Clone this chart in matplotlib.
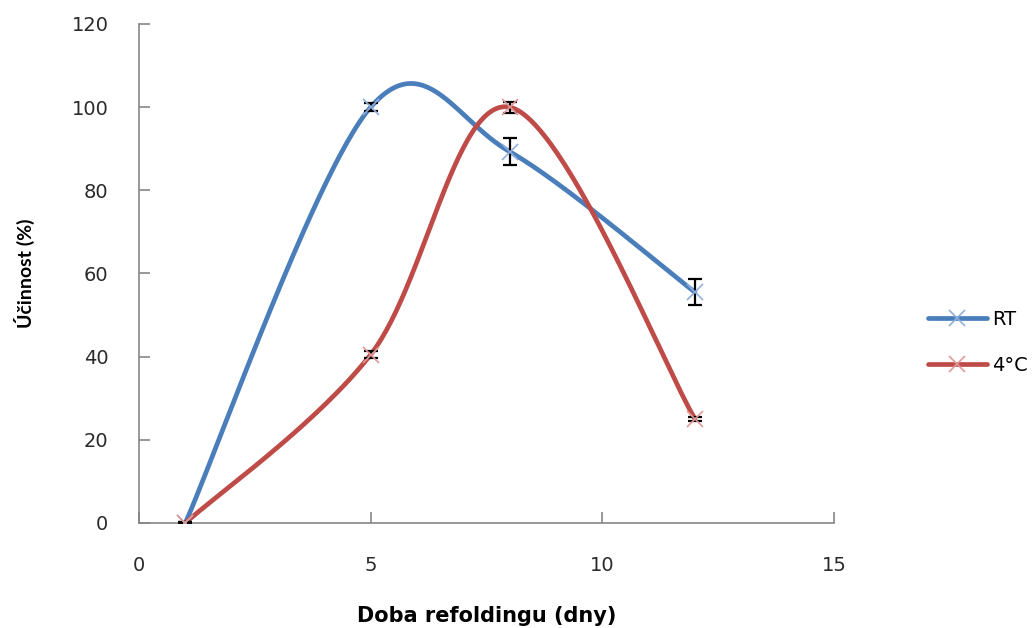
import numpy as np
import matplotlib
matplotlib.use('Agg')
import matplotlib.pyplot as plt

plt.rcParams['font.family'] = ['DejaVu Sans']

# data
days = [1, 5, 8, 12]
rt_vals = [0, 100, 89.3, 55.5]
rt_err = [0.3, 1.0, 3.2, 3.1]
cold_vals = [0, 40.5, 100, 25]
cold_err = [0.3, 0.8, 1.3, 0.5]


def excel_smooth(ax, xs, ys, n=60):
    # Excel-like smoothing (Catmull-Rom bezier) computed in display space
    pts = ax.transData.transform(np.column_stack([xs, ys]))
    p = np.vstack([pts[0], pts, pts[-1]])
    out = []
    t = np.linspace(0, 1, n)[:, None]
    for i in range(1, len(p) - 2):
        p0, p3 = p[i], p[i + 1]
        c1 = p0 + (p[i + 1] - p[i - 1]) / 6
        c2 = p3 - (p[i + 2] - p[i]) / 6
        seg = ((1 - t) ** 3) * p0 + 3 * ((1 - t) ** 2) * t * c1 + 3 * (1 - t) * t ** 2 * c2 + t ** 3 * p3
        out.append(seg)
    curve = np.vstack(out)
    return ax.transData.inverted().transform(curve)


fig = plt.figure(figsize=(10.35, 6.28), dpi=100)
ax = fig.add_axes([0.1343, 0.1672, 0.6715, 0.7946])
ax.set_xlim(0, 15)
ax.set_ylim(0, 120)

series = [
    ('RT', rt_vals, rt_err, '#4a7ebb', '#8fb0dd'),
    ('4°C', cold_vals, cold_err, '#be4b48', '#e09a98'),
]
handles = []
for name, vals, err, col, mcol in series:
    c = excel_smooth(ax, days, vals)
    ax.plot(c[:, 0], c[:, 1], color=col, lw=3.4, solid_capstyle='round', zorder=2)
    ax.errorbar(days, vals, yerr=err, fmt='none', ecolor='black', elinewidth=1.6,
                capsize=5, capthick=1.6, zorder=3)
    ax.plot(days, vals, ls='none', marker='x', ms=12, mew=1.2, color=mcol, zorder=4)
    h, = ax.plot([], [], color=col, lw=3.4, marker='x', ms=12, mew=1.2,
                 mec=mcol, solid_capstyle='round', label=name)
    handles.append(h)

for s in ['top', 'right']:
    ax.spines[s].set_visible(False)
for s in ['left', 'bottom']:
    ax.spines[s].set_color('#868686')
    ax.spines[s].set_linewidth(1.2)

ax.set_xticks([0, 5, 10, 15])
ax.set_yticks(range(0, 121, 20))
ax.tick_params(axis='both', direction='in', length=8, width=1.2, color='#868686',
               labelsize=14, labelcolor='#2a2a2a')
ax.tick_params(axis='x', pad=24)
ax.tick_params(axis='y', pad=22)

ax.set_xlabel('Doba refoldingu (dny)', fontsize=15, fontweight='bold', labelpad=22)
ax.set_ylabel('Účinnost (%)', fontsize=14, fontweight='bold', labelpad=26,
              family='Lato')

fig.legend(handles=handles, loc='center left', bbox_to_anchor=(0.88, 0.455),
           frameon=False, fontsize=14, handlelength=3.0, labelspacing=1.4,
           handletextpad=0.3)

fig.savefig('out.png', dpi=100, facecolor='white')
